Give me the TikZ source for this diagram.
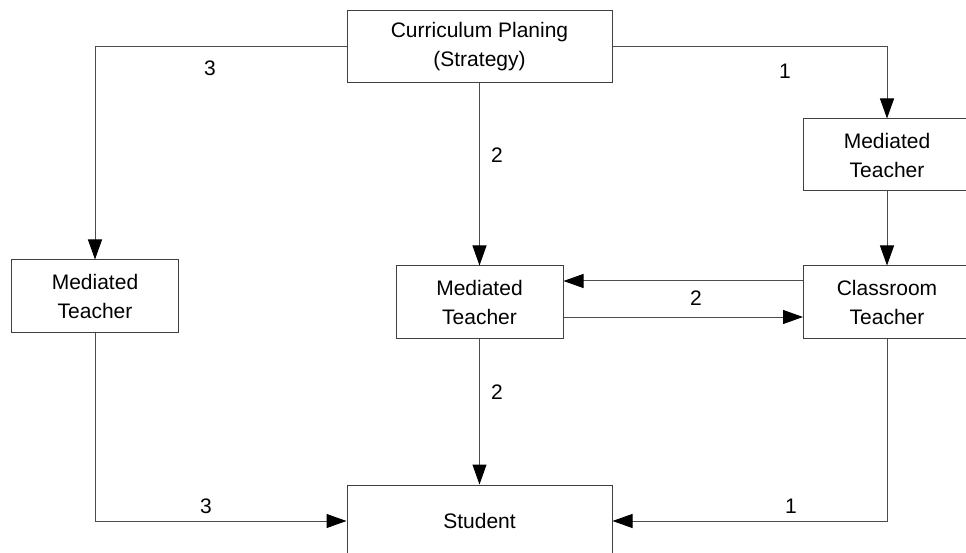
\documentclass[tikz,border=0pt]{standalone}
\usepackage{fontspec}
\setmainfont{Liberation Sans}
\usetikzlibrary{arrows.meta}

\tikzset{
  box/.style={draw=black!75, line width=1pt, minimum width=167pt, minimum height=72pt,
              inner sep=0pt, align=center, font=\fontsize{21}{29}\selectfont},
  widebox/.style={box, minimum width=265pt},
  link/.style={draw=black!70, line width=1pt,
               -{Triangle[width=14pt,length=20pt,color=black]}},
  tag/.style={inner sep=0pt, font=\fontsize{21}{29}\selectfont}
}

\begin{document}
\begin{tikzpicture}[x=1pt, y=-1pt]
  \useasboundingbox (0,0) rectangle (966,553);

  % boxes
  \node[widebox] (plan)  at (479.5,47)  {Curriculum Planing\\(Strategy)};
  \node[box]     (medL)  at (95,296)    {Mediated\\Teacher};
  \node[box]     (medM)  at (479.5,302) {Mediated\\Teacher};
  \node[box]     (medR)  at (887,155)   {Mediated\\Teacher};
  \node[box]     (class) at (887,302)   {Classroom\\Teacher};
  \node[widebox] (stud)  at (479.5,521) {Student};

  % connectors
  \draw[link] (plan.west) -| (medL.north);
  \draw[link] (plan.east) -| (medR.north);
  \draw[link] (plan.south) -- (medM.north);
  \draw[link] (medR.south) -- (class.north);
  \draw[link] ([yshift=21pt]class.west) -- ([yshift=21pt]medM.east);
  \draw[link] ([yshift=-15pt]medM.east) -- ([yshift=-15pt]class.west);
  \draw[link] (medM.south) -- (stud.north);
  \draw[link] (medL.south) |- (stud.west);
  \draw[link] (class.south) |- (stud.east);

  % path numbers
  \node[tag] (n3a) at (210,68)  {3};
  \node[tag] (n1a) at (785,71)  {1};
  \node[tag] (n2a) at (497,155) {2};
  \node[tag] (n2b) at (696,298) {2};
  \node[tag] (n2c) at (497,392) {2};
  \node[tag] (n3b) at (206,506) {3};
  \node[tag] (n1b) at (791,506) {1};
\end{tikzpicture}
\end{document}
